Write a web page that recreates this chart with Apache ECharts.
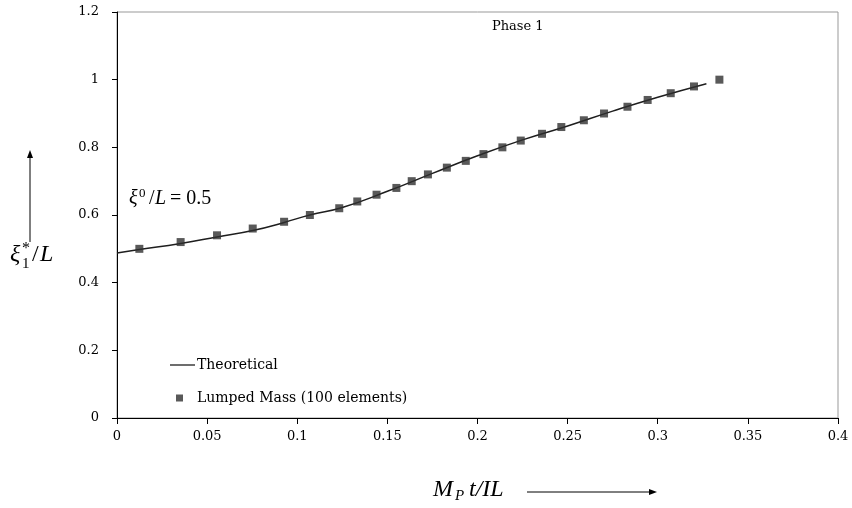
<!DOCTYPE html>
<html><head><meta charset="utf-8">
<script src="https://cdn.jsdelivr.net/npm/echarts@6/dist/echarts.min.js"></script>
<style>html,body{margin:0;padding:0;background:#fff}#c{width:852px;height:508px}</style>
</head><body><div id="c"></div>
<script>
const lumpedX = [0.0124, 0.0353, 0.0555, 0.0753, 0.0927, 0.107, 0.1233, 0.1333, 0.144, 0.155, 0.1635, 0.1725, 0.183, 0.1935, 0.2033, 0.2138, 0.224, 0.2358, 0.2465, 0.259, 0.2702, 0.2832, 0.2944, 0.3072, 0.3201, 0.3342];
const lumpedY = [0.50, 0.52, 0.54, 0.56, 0.58, 0.60, 0.62, 0.64, 0.66, 0.68, 0.70, 0.72, 0.74, 0.76, 0.78, 0.80, 0.82, 0.84, 0.86, 0.88, 0.90, 0.92, 0.94, 0.96, 0.98, 1.00];
const theoX = [0, 0.0124, 0.0353, 0.0555, 0.0753, 0.0927, 0.107, 0.125, 0.15, 0.175, 0.2, 0.225, 0.25, 0.275, 0.3, 0.327];
const theoY = [0.488, 0.498, 0.516, 0.535, 0.554, 0.578, 0.600, 0.622, 0.670, 0.723, 0.775, 0.822, 0.863, 0.907, 0.948, 0.988];
const seriesNames = ['Theoretical', 'Lumped Mass (100 elements)'];
const phaseLabel = 'Phase 1';

const serif = '"Liberation Serif", "Times New Roman", serif';
const dserif = '"DejaVu Serif", serif';
const chart = echarts.init(document.getElementById('c'));
chart.setOption({
  animation: false,
  backgroundColor: '#fff',
  grid: { left: 117, right: 14, top: 12, bottom: 90, show: true, borderColor: '#999', borderWidth: 1, containLabel: false },
  xAxis: {
    type: 'value', min: 0, max: 0.4, interval: 0.05,
    axisLine: { show: true, onZero: false, lineStyle: { color: '#000', width: 1 } },
    axisTick: { show: true, length: 6, lineStyle: { color: '#000' } },
    axisLabel: { color: '#000', fontFamily: dserif, fontSize: 13, margin: 12 },
    splitLine: { show: false }
  },
  yAxis: {
    type: 'value', min: 0, max: 1.2, interval: 0.2,
    axisLine: { show: true, onZero: false, lineStyle: { color: '#000', width: 1 } },
    axisTick: { show: true, length: 5, lineStyle: { color: '#000' } },
    axisLabel: { color: '#000', fontFamily: dserif, fontSize: 13, margin: 18 },
    splitLine: { show: false }
  },
  legend: [
    { data: [{ name: seriesNames[0], icon: 'rect' }], left: 165, top: 353, itemWidth: 25, itemHeight: 1.3, itemGap: 0,
      textStyle: { fontFamily: dserif, fontSize: 14, color: '#000', padding: [0, 0, 0, -3] } },
    { data: [{ name: seriesNames[1], icon: 'rect' }], left: 171, top: 386, itemWidth: 7, itemHeight: 7,
      textStyle: { fontFamily: dserif, fontSize: 14, color: '#000', padding: [0, 0, 0, 9] } }
  ],
  series: [
    { name: seriesNames[0], type: 'line', smooth: true, symbol: 'none',
      lineStyle: { color: '#1e1e1e', width: 1.5 }, itemStyle: { color: '#1e1e1e' },
      data: theoX.map((x, i) => [x, theoY[i]]), z: 2 },
    { name: seriesNames[1], type: 'scatter', symbol: 'rect', symbolSize: 8,
      itemStyle: { color: '#303030' },
      data: lumpedX.map((x, i) => [x, lumpedY[i]]), z: 3 }
  ],
  graphic: [
    { type: 'text', left: 492, top: 20, style: { text: phaseLabel, font: '13px ' + dserif, fill: '#000' } },
    // xi^0/L = 0.5
    { type: 'text', left: 129, top: 189, style: { text: 'ξ', font: 'italic 20px ' + serif, fill: '#000' } },
    { type: 'text', left: 139, top: 187, style: { text: '0', font: '13px ' + serif, fill: '#000' } },
    { type: 'text', left: 149, top: 189, style: { text: '/', font: '20px ' + serif, fill: '#000' } },
    { type: 'text', left: 155, top: 189, style: { text: 'L', font: 'italic 20px ' + serif, fill: '#000' } },
    { type: 'text', left: 170, top: 189, style: { text: '= 0.5', font: '20px ' + serif, fill: '#000' } },
    // y label xi_1^*/L
    { type: 'text', left: 10, top: 243, style: { text: 'ξ', font: 'italic 24px ' + serif, fill: '#000' } },
    { type: 'text', left: 22, top: 257, style: { text: '1', font: '15px ' + serif, fill: '#000' } },
    { type: 'text', left: 22, top: 241, style: { text: '*', font: '16px ' + serif, fill: '#000' } },
    { type: 'text', left: 32, top: 243, style: { text: '/', font: '24px ' + serif, fill: '#000' } },
    { type: 'text', left: 40, top: 243, style: { text: 'L', font: 'italic 24px ' + serif, fill: '#000' } },
    { type: 'line', shape: { x1: 30, y1: 242, x2: 30, y2: 156 }, style: { stroke: '#000', lineWidth: 1 } },
    { type: 'polygon', shape: { points: [[30, 150], [27, 158], [33, 158]] }, style: { fill: '#000' } },
    // x label M_P t/IL
    { type: 'text', left: 433, top: 478, style: { text: 'M', font: 'italic 24px ' + serif, fill: '#000' } },
    { type: 'text', left: 455, top: 489, style: { text: 'P', font: 'italic 15px ' + serif, fill: '#000' } },
    { type: 'text', left: 469, top: 478, style: { text: 't/IL', font: 'italic 24px ' + serif, fill: '#000' } },
    { type: 'line', shape: { x1: 527, y1: 492, x2: 650, y2: 492 }, style: { stroke: '#000', lineWidth: 1 } },
    { type: 'polygon', shape: { points: [[657, 492], [649, 489], [649, 495]] }, style: { fill: '#000' } }
  ]
});
</script></body></html>
